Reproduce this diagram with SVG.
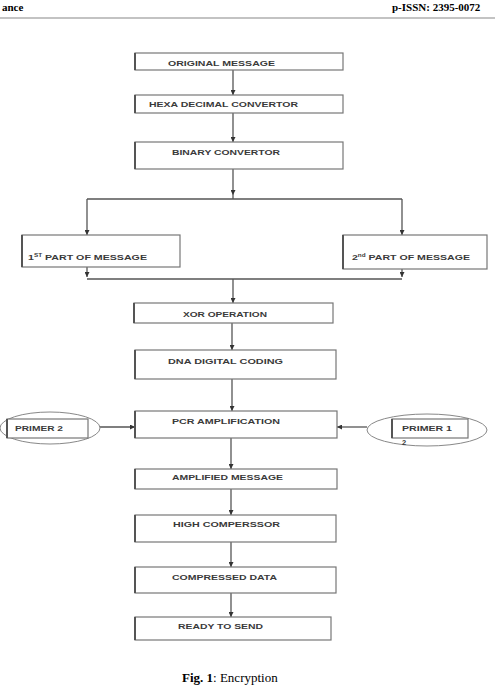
<svg xmlns="http://www.w3.org/2000/svg" width="495" height="685" viewBox="0 0 495 685">
<defs>
<marker id="ah" viewBox="0 0 10 10" refX="10" refY="5" markerWidth="5" markerHeight="5" orient="auto" markerUnits="userSpaceOnUse">
<path d="M0,0 L10,5 L0,10 z" fill="#333"/>
</marker>
</defs>
<style>
.box{fill:#fff;stroke:#777;stroke-width:1.2}
.lft{stroke:#555;stroke-width:2}
.t{font-family:"Liberation Sans",Arial,sans-serif;font-size:7.5px;font-weight:bold;fill:#3a3a3a}
.c{fill:none;stroke:#555;stroke-width:1.3}
.ca{fill:none;stroke:#555;stroke-width:1.3;marker-end:url(#ah)}
.hdr{font-family:"Liberation Serif","Times New Roman",serif;font-size:11px;font-weight:bold;fill:#000}
.ell{fill:none;stroke:#888;stroke-width:1}
</style>
<rect width="495" height="685" fill="#fff"/>
<g id="header">
<text class="hdr" x="2" y="11">ance</text>
<text class="hdr" x="392" y="11">p-ISSN: 2395-0072</text>
<line x1="0" y1="18" x2="495" y2="18" stroke="#888" stroke-width="1.2"/>
</g>
<g id="connectors">
<line class="ca" x1="233" y1="70" x2="233" y2="95"/>
<line class="ca" x1="233" y1="113" x2="233" y2="142"/>
<line class="ca" x1="233" y1="169" x2="233" y2="195"/>
<polyline class="c" points="87,199 402,199"/>
<line class="c" x1="233" y1="195" x2="233" y2="199"/>
<line class="ca" x1="87" y1="199" x2="87" y2="235"/>
<line class="ca" x1="402" y1="199" x2="402" y2="235"/>
<line class="ca" x1="87" y1="267" x2="87" y2="277"/>
<line class="ca" x1="402" y1="269" x2="402" y2="277"/>
<polyline class="c" points="87,279 402,279"/>
<line class="ca" x1="233" y1="279" x2="233" y2="303"/>
<line class="ca" x1="232" y1="323" x2="232" y2="350"/>
<line class="ca" x1="232" y1="379" x2="232" y2="411"/>
<line class="ca" x1="100" y1="427" x2="135" y2="427"/>
<line class="ca" x1="367" y1="427" x2="337" y2="427"/>
<line class="ca" x1="231" y1="438" x2="231" y2="469"/>
<line class="ca" x1="231" y1="489" x2="231" y2="515"/>
<line class="ca" x1="231" y1="542" x2="231" y2="567"/>
<line class="ca" x1="231" y1="593" x2="231" y2="617"/>
</g>
<g id="n-original">
<rect class="box" x="135" y="53" width="208" height="17"/>
<line class="lft" x1="135" y1="53" x2="135" y2="70"/>
<text class="t" x="168" y="66" textLength="107" lengthAdjust="spacingAndGlyphs">ORIGINAL MESSAGE</text>
</g>
<g id="n-hexa">
<rect class="box" x="135" y="95" width="208" height="18"/>
<line class="lft" x1="135" y1="95" x2="135" y2="113"/>
<text class="t" x="149" y="107" textLength="149" lengthAdjust="spacingAndGlyphs">HEXA DECIMAL CONVERTOR</text>
</g>
<g id="n-binary">
<rect class="box" x="135" y="142" width="208" height="27"/>
<line class="lft" x1="135" y1="142" x2="135" y2="169"/>
<text class="t" x="172" y="155" textLength="108" lengthAdjust="spacingAndGlyphs">BINARY CONVERTOR</text>
</g>
<g id="n-part1">
<rect class="box" x="22" y="235" width="158" height="32"/>
<line class="lft" x1="22" y1="235" x2="22" y2="267"/>
<text class="t" x="28" y="260" textLength="119" lengthAdjust="spacingAndGlyphs">1<tspan font-size="4.5" dy="-3">ST</tspan><tspan dy="3"> PART OF MESSAGE</tspan></text>
</g>
<g id="n-part2">
<rect class="box" x="343" y="235" width="144" height="34"/>
<line class="lft" x1="343" y1="235" x2="343" y2="269"/>
<text class="t" x="352" y="260" textLength="118" lengthAdjust="spacingAndGlyphs">2<tspan font-size="4.5" dy="-3">nd</tspan><tspan dy="3"> PART OF MESSAGE</tspan></text>
</g>
<g id="n-xor">
<rect class="box" x="134" y="303" width="199" height="20"/>
<line class="lft" x1="134" y1="303" x2="134" y2="323"/>
<text class="t" x="183" y="317" textLength="84" lengthAdjust="spacingAndGlyphs">XOR OPERATION</text>
</g>
<g id="n-dna">
<rect class="box" x="135" y="350" width="201" height="29"/>
<line class="lft" x1="135" y1="350" x2="135" y2="379"/>
<text class="t" x="168" y="364" textLength="115" lengthAdjust="spacingAndGlyphs">DNA DIGITAL CODING</text>
</g>
<g id="n-pcr">
<rect class="box" x="135" y="411" width="202" height="27"/>
<line class="lft" x1="135" y1="411" x2="135" y2="438"/>
<text class="t" x="172" y="424" textLength="108" lengthAdjust="spacingAndGlyphs">PCR AMPLIFICATION</text>
</g>
<g id="n-primer2">
<ellipse class="ell" cx="50" cy="428" rx="50" ry="16"/>
<rect class="box" x="7" y="419" width="81" height="19"/>
<line class="lft" x1="7" y1="419" x2="7" y2="438"/>
<text class="t" x="15" y="431" textLength="48" lengthAdjust="spacingAndGlyphs">PRIMER 2</text>
</g>
<g id="n-primer1">
<ellipse class="ell" cx="427" cy="430" rx="60" ry="16"/>
<rect class="box" x="392" y="419" width="76" height="19"/>
<line class="lft" x1="392" y1="419" x2="392" y2="438"/>
<text class="t" x="402" y="431" textLength="50" lengthAdjust="spacingAndGlyphs">PRIMER 1</text>
<text class="t" x="402" y="445" font-size="6">2</text>
</g>
<g id="n-amplified">
<rect class="box" x="135" y="469" width="202" height="20"/>
<line class="lft" x1="135" y1="469" x2="135" y2="489"/>
<text class="t" x="172" y="480" textLength="111" lengthAdjust="spacingAndGlyphs">AMPLIFIED MESSAGE</text>
</g>
<g id="n-high">
<rect class="box" x="135" y="515" width="201" height="27"/>
<line class="lft" x1="135" y1="515" x2="135" y2="542"/>
<text class="t" x="173" y="527" textLength="107" lengthAdjust="spacingAndGlyphs">HIGH COMPERSSOR</text>
</g>
<g id="n-compressed">
<rect class="box" x="135" y="567" width="201" height="26"/>
<line class="lft" x1="135" y1="567" x2="135" y2="593"/>
<text class="t" x="172" y="580" textLength="105" lengthAdjust="spacingAndGlyphs">COMPRESSED DATA</text>
</g>
<g id="n-ready">
<rect class="box" x="135" y="617" width="196" height="23"/>
<line class="lft" x1="135" y1="617" x2="135" y2="640"/>
<text class="t" x="178" y="629" textLength="85" lengthAdjust="spacingAndGlyphs">READY TO SEND</text>
</g>
<g id="caption">
<text x="182" y="682" font-family="'Liberation Serif','Times New Roman',serif" font-size="13" fill="#000"><tspan font-weight="bold">Fig. 1</tspan>: Encryption</text>
</g>
</svg>
